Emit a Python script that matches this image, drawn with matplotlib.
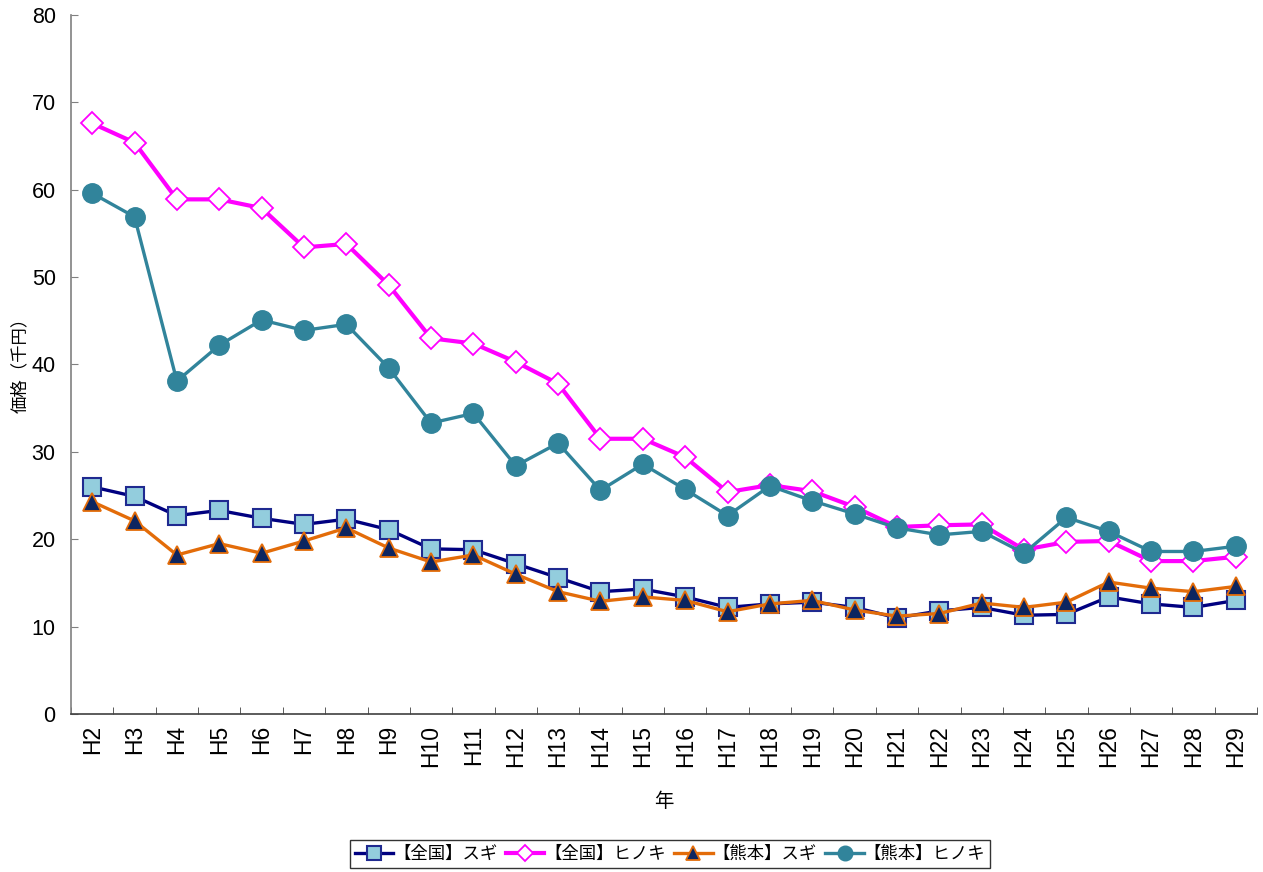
import matplotlib
matplotlib.use('Agg')
import matplotlib.pyplot as plt

plt.rcParams['font.family'] = ['Liberation Sans', 'Noto Sans CJK JP', 'DejaVu Sans']

years = ['H%d' % i for i in range(2, 30)]

# 価格 (千円)
zenkoku_sugi = [26.0, 24.9, 22.7, 23.3, 22.4, 21.7, 22.3, 21.1, 18.9, 18.8,
                17.2, 15.6, 14.0, 14.3, 13.4, 12.2, 12.6, 12.8, 12.2, 11.0,
                11.8, 12.2, 11.3, 11.4, 13.4, 12.6, 12.2, 13.0]
zenkoku_hinoki = [67.6, 65.4, 58.9, 58.9, 57.9, 53.4, 53.8, 49.1, 43.0, 42.4,
                  40.3, 37.8, 31.5, 31.5, 29.4, 25.4, 26.2, 25.5, 23.7, 21.4,
                  21.6, 21.7, 18.8, 19.7, 19.8, 17.5, 17.5, 18.0]
kumamoto_sugi = [24.3, 22.1, 18.2, 19.5, 18.4, 19.8, 21.3, 19.0, 17.4, 18.2,
                 16.0, 14.0, 12.9, 13.4, 13.0, 11.7, 12.6, 13.0, 11.9, 11.2,
                 11.5, 12.7, 12.2, 12.8, 15.1, 14.4, 14.0, 14.6]
kumamoto_hinoki = [59.6, 56.9, 38.1, 42.2, 45.1, 43.9, 44.6, 39.6, 33.3, 34.4,
                   28.4, 31.0, 25.6, 28.6, 25.7, 22.7, 26.1, 24.4, 22.9, 21.3,
                   20.5, 20.9, 18.4, 22.5, 20.9, 18.6, 18.6, 19.2]

fig = plt.figure(figsize=(12.63, 8.72), dpi=100)
ax = fig.add_axes([71 / 1263, 1 - 714 / 872, (1257 - 71) / 1263, (714 - 15) / 872])

x = list(range(len(years)))
ax.plot(x, zenkoku_sugi, color='#000080', lw=2.4, marker='s', ms=13,
        mfc='#93CDDD', mec='#1F2A90', mew=1.5, label='【全国】スギ', zorder=3)
ax.plot(x, zenkoku_hinoki, color='#FF00FF', lw=3, marker='D', ms=11,
        mfc='white', mec='#FF00FF', mew=1.3, label='【全国】ヒノキ', zorder=4)
ax.plot(x, kumamoto_sugi, color='#E36C09', lw=2.4, marker='^', ms=13,
        mfc='#0D2560', mec='#E36C09', mew=1.3, label='【熊本】スギ', zorder=5)
ax.plot(x, kumamoto_hinoki, color='#31849B', lw=2.4, marker='o', ms=14,
        mfc='#31849B', mec='#31849B', label='【熊本】ヒノキ', zorder=6)

ax.set_xlim(-0.5, len(years) - 0.5)
ax.set_ylim(0, 80)
ax.set_yticks(range(0, 81, 10))
ax.set_xticks(x)
ax.set_xticklabels(years, rotation=90, fontsize=16.5)
ax.set_xticks([i - 0.5 for i in range(len(years) + 1)], minor=True)
ax.tick_params(axis='x', which='major', length=0, pad=8)
ax.tick_params(axis='x', which='minor', length=5, direction='in', color='#404040')
ax.tick_params(axis='y', length=5, direction='in', labelsize=15.5, color='#808080', pad=11)

for s in ['top', 'right']:
    ax.spines[s].set_visible(False)
ax.spines['left'].set_color('#808080')
ax.spines['bottom'].set_color('#404040')
ax.spines['left'].set_linewidth(1.2)
ax.spines['bottom'].set_linewidth(1.2)

ax.set_xlabel('年', fontsize=14, labelpad=18)
ax.set_ylabel('価格（千円）', fontsize=12.5)
ax.yaxis.set_label_coords(-0.036, 0.505)

leg = fig.legend(loc='center', bbox_to_anchor=(670 / 1263, 1 - 854 / 872), ncol=4,
                 prop={'family': ['Noto Sans CJK JP'], 'size': 12.5},
                 frameon=True, fancybox=False, edgecolor='black',
                 handlelength=2.2, handletextpad=0.0, columnspacing=0.5,
                 borderpad=0.3, markerscale=0.75)
leg.get_frame().set_linewidth(1.0)

fig.savefig('out.png', dpi=100)
